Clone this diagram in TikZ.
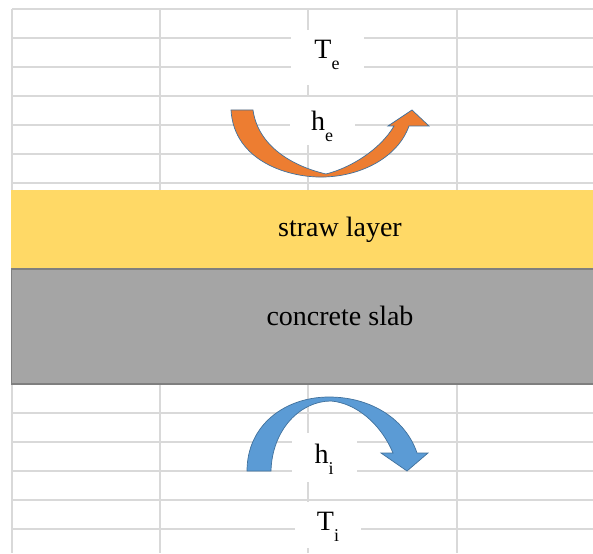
\documentclass[tikz,border=0pt]{standalone}
\usepackage{fontspec}
\setmainfont{Liberation Serif}

\definecolor{gridgray}{HTML}{D9D9D9}
\definecolor{strawyellow}{HTML}{FFD966}
\definecolor{slabgray}{HTML}{A5A5A5}
\definecolor{slabedge}{HTML}{7F7F7F}
\definecolor{heatorange}{HTML}{ED7D31}
\definecolor{heatblue}{HTML}{5B9BD5}
\definecolor{arrowedge}{HTML}{41719C}

\newcommand{\lowsub}[1]{\raisebox{-11pt}{\fontsize{18}{18}\selectfont #1}}

\begin{document}
\begin{tikzpicture}[x=1pt, y=-1pt,
		gridline/.style={gridgray, line width=1.5pt},
		lbl/.style={fill=white, inner sep=0pt, anchor=base, font=\rmfamily\fontsize{28}{30}\selectfont},
		layer/.style={anchor=base, font=\rmfamily\fontsize{28}{30}\selectfont},
		flux/.style={draw=arrowedge, line width=0.7pt}]
		\useasboundingbox (0,0) rectangle (593,553);

		% 1. Draw the Grid (sheet cells above and below the layers)
		\draw[gridline] (12,9) -- (593,9) (12,38) -- (593,38) (12,67) -- (593,67)
			(12,96) -- (593,96) (12,125) -- (593,125) (12,154) -- (593,154) (12,183) -- (593,183);
		\draw[gridline] (12,9) -- (12,190) (160,9) -- (160,190) (308,9) -- (308,190) (457,9) -- (457,190);
		\draw[gridline] (12,413) -- (593,413) (12,442) -- (593,442) (12,471) -- (593,471)
			(12,500) -- (593,500) (12,529) -- (593,529);
		\draw[gridline] (12,384) -- (12,553) (160,384) -- (160,553) (308,384) -- (308,553) (457,384) -- (457,553);

		% 2. Draw the Layers
		\fill[strawyellow] (11,190) rectangle (596,269);
		\draw[slabedge, fill=slabgray, line width=1.5pt] (11.5,269) rectangle (600,384);
		\node[layer] (straw) at (340,236) {straw layer};
		\node[layer] (slab) at (340,325) {concrete slab};

		% 3. Draw the Heat Arrows
		% outside: curved up arrow
		\filldraw[flux, fill=heatorange] (231,110) .. controls (234,162) and (290,178) .. (324,177)
			.. controls (362,176) and (398,157) .. (409,126) -- (429,126) -- (412,110) -- (388,126) -- (394,126)
			.. controls (380,150) and (350,168) .. (326,174)
			.. controls (292,166) and (258,146) .. (253,110) -- cycle;
		% inside: curved down arrow
		\filldraw[flux, fill=heatblue] (247,471) .. controls (247,425) and (285,397) .. (329,397)
			.. controls (372,397) and (406,420) .. (417,453) -- (428,453) -- (407,471) -- (381,453) -- (393,453)
			.. controls (381,424) and (356,403) .. (331,401)
			.. controls (300,401) and (272,430) .. (271,471) -- cycle;

		% 4. Labels (white cells)
		\node[lbl, minimum width=73pt, text height=29pt, text depth=26pt] (Te) at (327,59) {T\lowsub{e}};
		\node[lbl, minimum width=65pt, text height=34pt, text depth=14pt] (he) at (322,131) {h\lowsub{e}};
		\node[lbl, minimum width=65pt, text height=30pt, text depth=19pt] (hi) at (324,463) {h\lowsub{i}};
		\node[lbl, minimum width=66pt, text height=28pt, text depth=18pt] (Ti) at (328,530) {T\lowsub{i}};
	\end{tikzpicture}
\end{document}
